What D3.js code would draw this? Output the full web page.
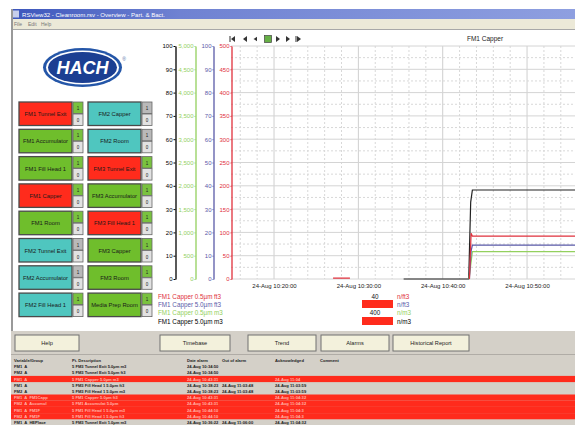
<!DOCTYPE html>
<html><head><meta charset="utf-8">
<script src="https://cdn.jsdelivr.net/npm/d3@7"></script>
<style>body{margin:0;background:#fff}svg{display:block;font-family:Arial,"Liberation Sans",sans-serif}</style>
</head><body><svg id="c" width="575" height="425"></svg>
<script>
// ---------------- DATA ----------------
const windowTitle = "RSView32 - Cleanroom.rsv - Overview - Part. & Bact.";
const menuItems = ["File", "Edit", "Help"];
const chartTitle = "FM1 Capper";

const col1Labels = ["FM1 Tunnel Exit","FM1 Accumulator","FM1 Fill Head 1","FM1 Capper","FM1 Room","FM2 Tunnel Exit","FM2 Accumulator","FM2 Fill Head 1"];
const col1Status = ["alarm","ok","ok","alarm","ok","off","off","off"];
const col1Side   = ["on","on","on","on","on","off","off","on"];
const col2Labels = ["FM2 Capper","FM2 Room","FM3 Tunnel Exit","FM3 Accumulator","FM3 Fill Head 1","FM3 Capper","FM3 Room","Media Prep Room"];
const col2Status = ["off","off","alarm","ok","alarm","ok","ok","ok"];
const col2Side   = ["off","off","on","on","on","on","on","on"];

const timeDomain = ["10:14:54","10:55:41"];
const timeTicks  = ["10:20:00","10:30:00","10:40:00","10:50:00"];

const blackTicks = [0,10,20,30,40,50,60,70,80,90,100];
const greenTicks = [0,500,1000,1500,2000,2500,3000,3500,4000,4500,5000];
const blueTicks  = [0,10,20,30,40,50,60,70,80,90,100];
const redTicks   = [0,50,100,150,200,250,300,350,400,450,500];

// series 1: FM1 Capper 0.5um ft3 (red axis 0-500)
const redTimes  = ["10:27:00","10:29:00","10:29:01","10:43:10","10:43:22","10:43:31","10:55:41"];
const redValues = [2, 2, null, 0, 98, 92, 92];
// series 2: FM1 Capper 5.0um ft3 (blue axis 0-100)
const blueTimes  = ["10:43:10","10:43:22","10:43:31","10:55:41"];
const blueValues = [0, 12, 14.5, 14.5];
// series 3: FM1 Capper 0.5um m3 (green axis 0-5000)
const greenTimes  = ["10:43:07","10:43:31","10:55:41"];
const greenValues = [0, 586, 586];
// series 4: FM1 Capper 5.0um m3 (black axis 0-100)
const blackTimes  = ["10:35:22","10:43:05","10:43:19","10:43:31","10:55:41"];
const blackValues = [0, 0, 33, 38.2, 38.2];

const legendNames  = ["FM1 Capper 0.5\u00b5m ft3","FM1 Capper 5.0\u00b5m ft3","FM1 Capper 0.5\u00b5m m3","FM1 Capper 5.0\u00b5m m3"];
const legendValues = ["40","","400",""];
const legendAlarm  = [false,true,false,true];
const legendUnits  = ["n/ft3","n/ft3","n/m3","n/m3"];

const bottomButtons = ["Help","Timebase","Trend","Alarms","Historical Report"];

const tableHeader = ["Variable/Group","Pt. Description","Date alarm","Out of alarm","Acknowledged","Comment"];
const tableVar   = ["FM1  A","FM2  A","FM1  A","FM1  A","FM2  A","FM1  A  FM1Capp","FM2  A  Accumul","FM1  A  FM1F","FM2  A  FM1F","FM1  A  HEPlace"];
const tableDesc  = ["5 FM3 Tunnel Exit 5.0\u00b5m m3","5 FM3 Tunnel Exit 5.0\u00b5m ft3","5 FM1 Capper 5.0\u00b5m m3","5 FM3 Fill Head 1 5.0\u00b5m ft3","5 FM3 Fill Head 1 5.0\u00b5m m3","5 FM1 Capper 5.0\u00b5m ft3","5 FM1 Accumulat 5.0\u00b5m","5 FM1 Fill Head 1 5.0\u00b5m m3","5 FM1 Fill Head 1 5.0\u00b5m ft3","5 FM3 Tunnel Exit 1.0\u00b5m m3"];
const tableDate  = ["24-Aug 10:34:50","24-Aug 10:34:50","24-Aug 10:43:31","24-Aug 10:38:23","24-Aug 10:38:23","24-Aug 10:43:31","24-Aug 10:43:31","24-Aug 10:44:10","24-Aug 10:44:10","24-Aug 10:36:22"];
const tableOut   = ["","","","24-Aug 11:03:48","24-Aug 11:03:48","","","","","24-Aug 11:06:00"];
const tableAck   = ["","","24-Aug 11:04","24-Aug 11:03:59","24-Aug 11:03:59","24-Aug 11:04:32","24-Aug 11:04:32","24-Aug 11:04:3","24-Aug 11:04:3","24-Aug 11:04:32"];
const tableAlarmRow = [false,false,true,false,false,true,true,true,true,false];

// ---------------- STYLE ----------------
const C = {red:"#ff2b1c", green:"#6fbe2c", teal:"#4fc6bf", sGreen:"#79c23f", sGray:"#b9b9b9",
  sLight:"#e2e2e2", ser:{red:"#e0303c", blue:"#5a5aa8", green:"#93d05e", black:"#000"},
  uiGray:"#d4d0c8", cream:"#f3f1dc"};
const statusColor = {alarm:C.red, ok:C.green, off:C.teal};

const svg = d3.select("#c");
const T = s => d3.timeParse("%Y-%m-%d %H:%M:%S")("2009-08-24 " + s);

svg.append("rect").attr("width",575).attr("height",425).attr("fill","#fff");

// ---------- window chrome ----------
const grad = svg.append("defs").append("linearGradient").attr("id","tb");
grad.append("stop").attr("offset","0").attr("stop-color","#3c56bc");
grad.append("stop").attr("offset","0.3").attr("stop-color","#6f82d2");
grad.append("stop").attr("offset","1").attr("stop-color","#8e9fe0");
svg.append("rect").attr("x",11).attr("y",9).attr("width",564).attr("height",10).attr("fill","url(#tb)");
svg.append("rect").attr("x",12).attr("y",10.5).attr("width",7).attr("height",7).attr("fill","#e8ecf8").attr("opacity",0.8);
svg.append("text").attr("x",22).attr("y",16.5).attr("font-size",5.5).attr("fill","#fff")
  .attr("textLength",143).attr("lengthAdjust","spacingAndGlyphs").text(windowTitle);
svg.append("rect").attr("x",11).attr("y",19).attr("width",564).attr("height",10).attr("fill","#ece9d8");
svg.selectAll("text.menu").data(menuItems).join("text").attr("class","menu")
  .attr("x",(d,i)=>[14,28,41][i]).attr("y",26).attr("font-size",5).attr("fill","#777").text(d=>d);
svg.append("line").attr("x1",11).attr("x2",575).attr("y1",29.5).attr("y2",29.5).attr("stroke","#a8a8a8");
svg.append("line").attr("x1",12).attr("x2",12).attr("y1",9).attr("y2",331).attr("stroke","#999").attr("stroke-width",2);

// ---------- HACH logo ----------
const logo = svg.append("g").attr("transform","translate(82.5,67.5)");
logo.append("ellipse").attr("rx",39.5).attr("ry",19.5).attr("fill","#2456a8");
logo.append("ellipse").attr("rx",36.5).attr("ry",17).attr("fill","#fff");
logo.append("ellipse").attr("rx",34.5).attr("ry",15.5).attr("fill","#1b3f92");
logo.append("text").attr("x",0).attr("y",6.5).attr("text-anchor","middle").attr("font-size",18)
  .attr("font-weight","bold").attr("font-style","italic").attr("fill","#fff").attr("font-family","Arial, Liberation Sans").text("HACH");
svg.append("text").attr("x",124).attr("y",61).attr("text-anchor","middle").attr("font-size",5).attr("fill","#5070a8").text("\u00ae");

// ---------- station buttons ----------
function drawCol(labels, status, side, x0, sx) {
  const g = svg.append("g");
  labels.forEach((lab,i)=>{
    const y = 102 + i*27.3;
    g.append("rect").attr("x",x0).attr("y",y).attr("width",53).attr("height",23.5)
      .attr("fill",statusColor[status[i]]).attr("stroke","#4a4a4a").attr("stroke-width",1.3);
    g.append("text").attr("x",x0+26.5).attr("y",y+14).attr("text-anchor","middle").attr("font-size",5.8)
      .attr("fill","#1a1a1a").text(lab);
    g.append("rect").attr("x",sx).attr("y",y).attr("width",10).attr("height",11.5)
      .attr("fill",side[i]==="on"?C.sGreen:C.sGray).attr("stroke","#666").attr("stroke-width",0.8);
    g.append("rect").attr("x",sx).attr("y",y+12).attr("width",10).attr("height",11.5)
      .attr("fill",C.sLight).attr("stroke","#666").attr("stroke-width",0.8);
    g.append("text").attr("x",sx+5).attr("y",y+8).attr("text-anchor","middle").attr("font-size",4.5).attr("fill","#222").text("1");
    g.append("text").attr("x",sx+5).attr("y",y+20).attr("text-anchor","middle").attr("font-size",4.5).attr("fill","#222").text("0");
  });
}
drawCol(col1Labels, col1Status, col1Side, 19, 73);
drawCol(col2Labels, col2Status, col2Side, 88, 142);

// ---------- chart ----------
const x = d3.scaleTime().domain(timeDomain.map(T)).range([231,575]);
const yBlack = d3.scaleLinear().domain([0,100]).range([279,46]);
const yGreen = d3.scaleLinear().domain([0,5000]).range([279,46]);
const yBlue  = d3.scaleLinear().domain([0,100]).range([279,46]);
const yRed   = d3.scaleLinear().domain([0,500]).range([279,46]);

const grid = svg.append("g");
d3.timeMinute.every(2).range(x.domain()[0], x.domain()[1]).forEach(t=>{
  const major = t.getMinutes()%10===0;
  grid.append("line").attr("x1",x(t)).attr("x2",x(t)).attr("y1",46).attr("y2",279)
    .attr("stroke",major?"#cfcfcf":"#d8d8d8").attr("stroke-width",1)
    .attr("stroke-dasharray",major?null:"2,2");
});
d3.range(0,101,5).forEach(v=>{
  const major = v%10===0;
  grid.append("line").attr("x1",231).attr("x2",575).attr("y1",yBlack(v)).attr("y2",yBlack(v))
    .attr("stroke",major?"#d4d4d4":"#d8d8d8").attr("stroke-dasharray",major?null:"2,2");
});

function yAxis(scale, ticks, xpos, color, size) {
  const g = svg.append("g").attr("transform",`translate(${xpos},0)`)
    .call(d3.axisLeft(scale).tickValues(ticks).tickSize(size).tickPadding(1).tickSizeOuter(0));
  g.select(".domain").attr("stroke",color).attr("stroke-width",1.3);
  g.selectAll(".tick line").attr("stroke",color);
  g.selectAll(".tick text").attr("fill",color).attr("font-size",6).attr("font-family","Arial, Liberation Sans");
  return g;
}
yAxis(yBlack, blackTicks, 175.5, "#000", 2);
yAxis(yGreen, greenTicks, 195.5, C.ser.green, 1);
yAxis(yBlue,  blueTicks, 213.5, C.ser.blue, 1);
yAxis(yRed,   redTicks, 231.5, C.ser.red, 1);

const xa = svg.append("g").attr("transform","translate(0,279)")
  .call(d3.axisBottom(x).tickValues(timeTicks.map(T)).tickSize(0).tickPadding(5)
  .tickFormat(d3.timeFormat("%d-%b %H:%M:%S")));
xa.select(".domain").remove();
xa.selectAll(".tick text").attr("font-size",6).attr("fill","#222").attr("font-family","Arial, Liberation Sans");

// nav glyphs + title
const nav = svg.append("g").attr("fill","#333");
const navY = 39;
[[233,"bl"],[245,"l"],[255,"ls"],[278,"r"],[288,"r"],[299,"br"]].forEach(([cx,k])=>{
  const s = k==="ls"?2.2:3;
  if (k==="bl" || k==="l") nav.append("path").attr("d",`M${cx+2},${navY-s}L${cx+2},${navY+s}L${cx-2},${navY}Z`);
  else if (k==="ls") nav.append("path").attr("d",`M${cx+2},${navY-s}L${cx+2},${navY+s}L${cx-1.5},${navY}Z`);
  else nav.append("path").attr("d",`M${cx-2},${navY-s}L${cx-2},${navY+s}L${cx+2},${navY}Z`);
  if (k==="bl" || k==="br") nav.append("rect").attr("x",cx-3.5).attr("y",navY-3).attr("width",1).attr("height",6);
});
svg.append("rect").attr("x",264.5).attr("y",35.5).attr("width",7).attr("height",7).attr("fill","#66b046").attr("stroke","#444").attr("stroke-width",0.7);
svg.append("text").attr("x",485).attr("y",41).attr("text-anchor","middle").attr("font-size",6.5).attr("fill","#222").text(chartTitle);

// series
function series(times, values, ys, color) {
  const pts = times.map((t,i)=>[T(t), values[i]]);
  svg.append("path").datum(pts)
    .attr("d", d3.line().defined(d=>d[1]!=null).x(d=>x(d[0])).y(d=>ys(d[1])))
    .attr("fill","none").attr("stroke",color).attr("stroke-width",1.2);
}
series(blackTimes, blackValues, yBlack, "#222");
series(greenTimes, greenValues, yGreen, C.ser.green);
series(blueTimes, blueValues, yBlue, C.ser.blue);
series(redTimes, redValues, yRed, C.ser.red);

// legend
const legColors = [C.ser.red, C.ser.blue, C.ser.green, "#000"];
const legY = [298.5, 306.5, 315, 323.5];
legendNames.forEach((n,i)=>{
  svg.append("text").attr("x",158).attr("y",legY[i]).attr("font-size",6.3).attr("fill",legColors[i]).text(n);
  if (legendAlarm[i]) svg.append("rect").attr("x",362).attr("y",legY[i]-6.5).attr("width",31).attr("height",8).attr("fill",C.red);
  else svg.append("text").attr("x",375).attr("y",legY[i]).attr("text-anchor","middle").attr("font-size",6.3).attr("fill","#111").text(legendValues[i]);
  svg.append("text").attr("x",397).attr("y",legY[i]).attr("font-size",6.3).attr("fill",legColors[i]).text(legendUnits[i]);
});

// ---------- bottom button bar ----------
svg.append("rect").attr("x",11).attr("y",331).attr("width",564).attr("height",94).attr("fill",C.uiGray);
const btnX = [15,160,248,321,393], btnW = [64,70,68,68,76];
bottomButtons.forEach((b,i)=>{
  svg.append("rect").attr("x",btnX[i]).attr("y",335).attr("width",btnW[i]).attr("height",16)
    .attr("fill",C.cream).attr("stroke","#707070").attr("stroke-width",1);
  svg.append("text").attr("x",btnX[i]+btnW[i]/2).attr("y",345).attr("text-anchor","middle")
    .attr("font-size",5.6).attr("fill","#222").text(b);
});
svg.append("line").attr("x1",11).attr("x2",575).attr("y1",354.5).attr("y2",354.5).attr("stroke","#b0aca6");

// ---------- alarm table ----------
const colX = [14,72,187,222,275,320];
const tb = svg.append("g").attr("font-family","Liberation Sans, Arial, sans-serif").attr("font-size",4.1).attr("font-weight","bold");
tableHeader.forEach((h,j)=> tb.append("text").attr("x",colX[j]).attr("y",362.3).attr("fill","#222").text(h));
tableVar.forEach((v,i)=>{
  const top = 363.5 + i*6.2;
  if (tableAlarmRow[i]) tb.append("rect").attr("x",11).attr("y",top).attr("width",564).attr("height",6.2).attr("fill",C.red);
  const fill = tableAlarmRow[i] ? "#ffb3a8" : "#1a1a1a";
  const y = top + 4.7;
  [v, tableDesc[i], tableDate[i], tableOut[i], tableAck[i]].forEach((s,j)=>{
    if (s) tb.append("text").attr("x",colX[j]).attr("y",y).attr("fill",fill).attr("xml:space","preserve").text(s);
  });
});
</script></body></html>
